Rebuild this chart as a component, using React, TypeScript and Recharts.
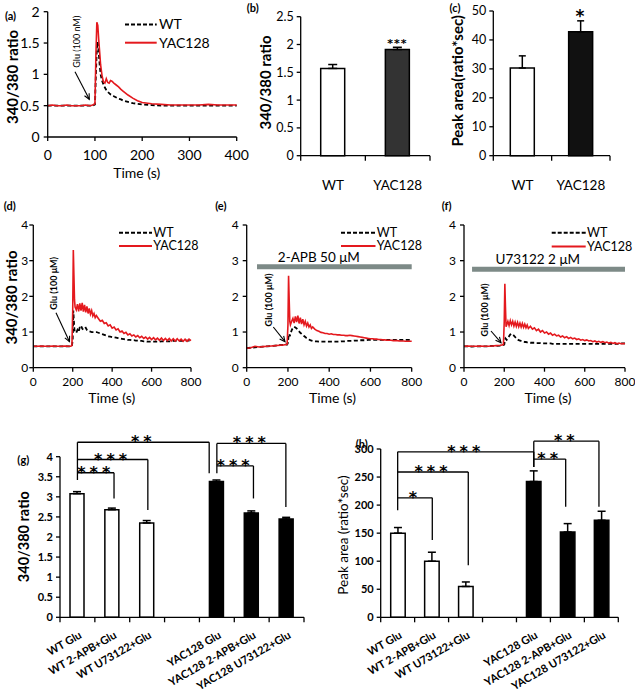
import React from "react";
import {
  LineChart,
  Line,
  BarChart,
  Bar,
  Cell,
  XAxis,
  YAxis,
  ErrorBar,
  ReferenceLine,
  ReferenceArea,
} from "recharts";

const FONT = "Lato, 'Liberation Sans', sans-serif";
const STAR_FONT = "'DejaVu Sans', sans-serif";
const RED = "#e4191e";
const DRUG_GRAY = "#7d8a87";

// ---------- (a) Glu 100 nM, 0-400 s ----------
const aTimes = [
  0, 10, 20, 30, 40, 50, 60, 70, 80, 90,
  95, 100, 102, 104, 106, 108, 110, 112, 115, 118, 121, 124, 127, 130, 133, 136, 140, 145, 150, 155, 160,
  170, 180, 190, 200,
  220, 240, 260, 280, 300, 320, 340, 360, 380, 400,
];
const aWT = [
  0.5, 0.5, 0.5, 0.5, 0.5, 0.5, 0.5, 0.5, 0.5, 0.5,
  0.5, 0.52, 1.0, 1.42, 1.52, 1.35, 1.15, 1.0, 0.9, 0.84, 0.79, 0.75, 0.72, 0.7, 0.68, 0.67, 0.65, 0.63, 0.61, 0.6, 0.58,
  0.56, 0.54, 0.53, 0.52,
  0.51, 0.5, 0.5, 0.5, 0.5, 0.5, 0.5, 0.5, 0.5, 0.5,
];
const aYAC = [
  0.5, 0.51, 0.5, 0.5, 0.51, 0.5, 0.5, 0.5, 0.51, 0.5,
  0.51, 0.53, 1.3, 1.83, 1.78, 1.55, 1.35, 1.15, 0.98, 0.88, 0.86, 0.93, 0.87, 0.86, 0.9, 0.89, 0.86, 0.83, 0.8, 0.76, 0.73,
  0.67, 0.62, 0.58, 0.55,
  0.53, 0.52, 0.51, 0.51, 0.51, 0.51, 0.52, 0.51, 0.51, 0.51,
];
const aTicksX = [0, 100, 200, 300, 400];
const aTicksY = [0, 0.5, 1, 1.5, 2];

// ---------- (d), (e), (f) Glu 100 uM, 0-800 s ----------
const tTimes = [
  0, 20, 40, 60, 80, 100, 120, 140, 160, 180,
  190, 196, 200, 203, 206, 209,
  212, 218, 224, 230, 236, 242, 248, 254, 260, 266, 272, 278, 284, 290, 296, 302, 308, 314, 320,
  330, 340, 350, 360, 370, 380, 390, 400, 410, 420,
  430, 440, 450, 460, 470, 480, 490, 500, 510, 520,
  530, 540, 550, 560, 570, 580, 590, 600, 610, 620,
  630, 640, 650, 660, 670, 680, 690, 700, 710, 720,
  730, 740, 750, 760, 770, 780, 790, 800,
];
const dWT = [
  0.6, 0.6, 0.6, 0.6, 0.6, 0.6, 0.6, 0.6, 0.6, 0.6,
  0.6, 0.6, 0.8, 1.6, 1.3, 1.05,
  1.0, 0.98, 1.06, 1.0, 1.14, 1.18, 1.1, 1.06, 1.1, 1.12, 1.06, 1.03, 1.02, 1.01, 1.0, 1.0, 1.0, 1.0, 1.0,
  0.98, 0.96, 0.94, 0.92, 0.9, 0.88, 0.87, 0.86, 0.85, 0.84,
  0.83, 0.82, 0.81, 0.8, 0.79, 0.78, 0.78, 0.77, 0.77, 0.76,
  0.76, 0.75, 0.75, 0.74, 0.74, 0.73, 0.73, 0.73, 0.73, 0.73,
  0.73, 0.73, 0.74, 0.74, 0.74, 0.74, 0.74, 0.74, 0.75, 0.75,
  0.75, 0.75, 0.75, 0.75, 0.76, 0.76, 0.76, 0.76,
];
const dYAC = [
  0.6, 0.6, 0.61, 0.6, 0.6, 0.61, 0.6, 0.6, 0.61, 0.6,
  0.6, 0.62, 1.6, 3.3, 2.6, 1.9,
  1.7, 1.62, 1.78, 1.58, 1.8, 1.6, 1.82, 1.57, 1.76, 1.55, 1.72, 1.52, 1.66, 1.5, 1.6, 1.45, 1.52, 1.4, 1.46,
  1.38, 1.3, 1.33, 1.24, 1.26, 1.17, 1.2, 1.11, 1.14, 1.06,
  1.09, 1.0, 1.03, 0.96, 0.99, 0.92, 0.95, 0.89, 0.92, 0.86,
  0.9, 0.84, 0.88, 0.82, 0.86, 0.8, 0.85, 0.79, 0.84, 0.78,
  0.83, 0.77, 0.83, 0.76, 0.82, 0.76, 0.82, 0.75, 0.81, 0.75,
  0.81, 0.75, 0.8, 0.74, 0.8, 0.74, 0.8, 0.76,
];
const eWT = [
  0.55, 0.56, 0.57, 0.58, 0.59, 0.6, 0.61, 0.62, 0.63, 0.64,
  0.65, 0.65, 0.7, 0.9, 0.95, 0.88,
  0.95, 1.05, 1.12, 1.15, 1.13, 1.1, 1.06, 1.02, 0.98, 0.95, 0.92, 0.89, 0.86, 0.83, 0.81, 0.79, 0.77, 0.76, 0.75,
  0.74, 0.74, 0.73, 0.73, 0.73, 0.73, 0.73, 0.73, 0.73, 0.73,
  0.73, 0.73, 0.73, 0.74, 0.74, 0.74, 0.75, 0.75, 0.75, 0.76,
  0.76, 0.76, 0.77, 0.77, 0.77, 0.77, 0.78, 0.78, 0.78, 0.78,
  0.78, 0.78, 0.78, 0.78, 0.78, 0.78, 0.78, 0.78, 0.78, 0.78,
  0.78, 0.78, 0.78, 0.78, 0.78, 0.78, 0.78, 0.78,
];
const eYAC = [
  0.55, 0.56, 0.6, 0.58, 0.59, 0.6, 0.61, 0.62, 0.63, 0.64,
  0.65, 0.66, 1.2, 2.58, 1.9, 1.3,
  1.2, 1.3, 1.38, 1.25, 1.44, 1.28, 1.46, 1.24, 1.4, 1.22, 1.36, 1.2, 1.3, 1.17, 1.25, 1.14, 1.2, 1.1, 1.14,
  1.08, 1.04, 1.02, 0.99, 0.98, 0.96, 0.96, 0.94, 0.95, 0.93,
  0.93, 0.92, 0.92, 0.91, 0.91, 0.9, 0.9, 0.91, 0.9, 0.89,
  0.88, 0.87, 0.86, 0.85, 0.84, 0.83, 0.82, 0.81, 0.81, 0.8,
  0.8, 0.79, 0.79, 0.78, 0.78, 0.77, 0.77, 0.77, 0.76, 0.76,
  0.76, 0.75, 0.75, 0.75, 0.74, 0.74, 0.74, 0.74,
];
const fWT = [
  0.6, 0.6, 0.59, 0.6, 0.6, 0.6, 0.6, 0.61, 0.61, 0.62,
  0.63, 0.64, 0.65, 0.75, 0.82, 0.8,
  0.78, 0.82, 0.88, 0.93, 0.95, 0.93, 0.9, 0.86, 0.82, 0.79, 0.77, 0.76, 0.75, 0.74, 0.73, 0.72, 0.72, 0.71, 0.71,
  0.7, 0.7, 0.7, 0.69, 0.69, 0.69, 0.68, 0.68, 0.68, 0.68,
  0.68, 0.67, 0.67, 0.67, 0.67, 0.67, 0.67, 0.67, 0.67, 0.67,
  0.67, 0.67, 0.67, 0.67, 0.67, 0.67, 0.67, 0.67, 0.67, 0.67,
  0.67, 0.67, 0.67, 0.67, 0.67, 0.67, 0.67, 0.67, 0.67, 0.67,
  0.67, 0.67, 0.67, 0.67, 0.67, 0.68, 0.68, 0.68,
];
const fYAC = [
  0.6, 0.61, 0.6, 0.6, 0.61, 0.6, 0.6, 0.61, 0.62, 0.63,
  0.64, 0.65, 1.3, 2.35, 1.7, 1.15,
  1.2, 1.3, 1.18, 1.32, 1.2, 1.3, 1.17, 1.28, 1.16, 1.27, 1.15, 1.25, 1.14, 1.24, 1.13, 1.22, 1.12, 1.2, 1.1,
  1.16, 1.08, 1.12, 1.04, 1.08, 1.0, 1.04, 0.97, 1.0, 0.94,
  0.97, 0.91, 0.94, 0.89, 0.91, 0.86, 0.89, 0.84, 0.87, 0.82,
  0.85, 0.81, 0.83, 0.79, 0.81, 0.77, 0.79, 0.76, 0.78, 0.75,
  0.76, 0.73, 0.75, 0.72, 0.74, 0.71, 0.73, 0.7, 0.72, 0.69,
  0.71, 0.68, 0.7, 0.67, 0.69, 0.67, 0.68, 0.67,
];
const tTicksX = [0, 200, 400, 600, 800];
const tTicksY = [0, 1, 2, 3, 4];

// drug application bars (time range, ratio level)
const apbBar = { x1: 50, x2: 800, y1: 2.76, y2: 2.9 };
const u73Bar = { x1: 40, x2: 800, y1: 2.69, y2: 2.83 };

// ---------- (b), (c) peak ratio and area ----------
const bcGroups = ["WT", "YAC128"];
const bMeans = [1.57, 1.91];
const bErrs = [0.07, 0.04];
const bTicksY = [0, 0.5, 1, 1.5, 2, 2.5];
const cMeans = [30.3, 42.8];
const cErrs = [4.2, 3.8];
const cTicksY = [0, 10, 20, 30, 40, 50];

// ---------- (g), (h) with inhibitors ----------
const ghGroups = [
  "WT Glu",
  "WT 2-APB+Glu",
  "WT U73122+Glu",
  "",
  "YAC128 Glu",
  "YAC128 2-APB+Glu",
  "YAC128 U73122+Glu",
];
const gMeans = [3.08, 2.68, 2.35, null, 3.38, 2.6, 2.45];
const gErrs = [0.05, 0.04, 0.06, null, 0.04, 0.05, 0.04];
const gTicksY = [0, 0.5, 1, 1.5, 2, 2.5, 3, 3.5, 4];
const hMeans = [150, 100, 55, null, 242, 152, 173];
const hErrs = [10, 16, 8, null, 19, 15, 16];
const hTicksY = [0, 50, 100, 150, 200, 250, 300];
const ghFills = ["#fff", "#fff", "#fff", "none", "#000", "#000", "#000"];

// significance brackets: x in band units (0..7), bar from x1 to x2 at y, right leg down to end
const gBrackets = [
  { x1: 0.5, x2: 1.55, y: 3.6, end: 2.96, stars: "***" },
  { x1: 0.5, x2: 2.52, y: 3.93, end: 2.67, stars: "***" },
  { x1: 0.5, x2: 4.28, y: 4.36, end: 3.59, stars: "**" },
  { x1: 4.5, x2: 5.55, y: 3.77, end: 2.96, stars: "***" },
  { x1: 4.5, x2: 6.48, y: 4.33, end: 2.75, stars: "***" },
];
const gLegs = [
  { x: 0.5, y1: 4.36, y2: 3.42 },
  { x: 4.5, y1: 4.33, y2: 3.59 },
];
const hBrackets = [
  { x1: 0.5, x2: 1.52, y: 213, end: 138, stars: "*" },
  { x1: 0.5, x2: 2.58, y: 259, end: 93, stars: "***" },
  { x1: 0.5, x2: 4.51, y: 295, end: 268, stars: "***" },
  { x1: 4.51, x2: 5.45, y: 282, end: 197, stars: "**" },
  { x1: 4.51, x2: 6.43, y: 314, end: 197, stars: "**" },
];
const hLegs = [
  { x: 0.5, y1: 295, y2: 191 },
  { x: 4.51, y1: 314, y2: 268 },
];

const zipTrace = (t: number[], wt: number[], yac: number[]) =>
  t.map((x, i) => ({ t: x, wt: wt[i], yac: yac[i] }));

type Margin = { top: number; right: number; bottom: number; left: number };

function TracePanel(props: {
  left: number;
  top: number;
  width: number;
  height: number;
  margin: Margin;
  yWidth: number;
  xHeight: number;
  data: any[];
  xMax: number;
  xTicks: number[];
  yMax: number;
  yTicks: number[];
  fontSize: number;
  xTickMargin: number;
  yTickMargin: number;
  drug?: { x1: number; x2: number; y1: number; y2: number };
}) {
  const p = props;
  const tickStyle = { fill: "#000", fontSize: p.fontSize, fontFamily: FONT };
  return (
    <div style={{ position: "absolute", left: p.left, top: p.top, width: p.width, height: p.height }}>
      <LineChart width={p.width} height={p.height} data={p.data} margin={p.margin}>
        <XAxis
          dataKey="t"
          type="number"
          domain={[0, p.xMax]}
          ticks={p.xTicks}
          interval={0}
          height={p.xHeight}
          tickSize={4}
          tickMargin={p.xTickMargin}
          tick={tickStyle}
          axisLine={{ stroke: "#000", strokeWidth: 1.3 }}
          tickLine={{ stroke: "#000", strokeWidth: 1.3 }}
        />
        <YAxis
          type="number"
          domain={[0, p.yMax]}
          ticks={p.yTicks}
          interval={0}
          width={p.yWidth}
          tickSize={4}
          tickMargin={p.yTickMargin}
          tick={tickStyle}
          axisLine={{ stroke: "#000", strokeWidth: 1.3 }}
          tickLine={{ stroke: "#000", strokeWidth: 1.3 }}
        />
        {p.drug && (
          <ReferenceArea
            x1={p.drug.x1}
            x2={p.drug.x2}
            y1={p.drug.y1}
            y2={p.drug.y2}
            fill={DRUG_GRAY}
            fillOpacity={1}
            stroke="none"
          />
        )}
        <Line
          type="linear"
          dataKey="wt"
          stroke="#000"
          strokeWidth={1.8}
          strokeDasharray="4 2.5"
          dot={false}
          isAnimationActive={false}
        />
        <Line
          type="linear"
          dataKey="yac"
          stroke={RED}
          strokeWidth={1.6}
          dot={false}
          isAnimationActive={false}
        />
      </LineChart>
    </div>
  );
}

function BandTick(props: any) {
  const { x, y, payload, index, half, count, rotated, fontSize } = props;
  return (
    <g>
      <line x1={x - half} x2={x - half} y1={y} y2={y + 5} stroke="#000" strokeWidth={1.3} />
      {index === count - 1 && (
        <line x1={x + half} x2={x + half} y1={y} y2={y + 5} stroke="#000" strokeWidth={1.3} />
      )}
      {rotated ? (
        <text
          x={x + 5}
          y={y + 20}
          transform={`rotate(-30 ${x + 5} ${y + 20})`}
          textAnchor="end"
          fontSize={fontSize}
          fontWeight="bold"
          fontFamily={FONT}
          fill="#000"
        >
          {payload.value}
        </text>
      ) : (
        <text x={x} y={y + 34} textAnchor="middle" fontSize={fontSize} fontFamily={FONT} fill="#000">
          {payload.value}
        </text>
      )}
    </g>
  );
}

type Bracket = { x1: number; x2: number; y: number; end: number; stars: string };
type Leg = { x: number; y1: number; y2: number };

function BarPanel(props: {
  left: number;
  top: number;
  width: number;
  height: number;
  margin: Margin;
  yWidth: number;
  xHeight: number;
  groups: string[];
  means: (number | null)[];
  errs: (number | null)[];
  fills: string[];
  yMax: number;
  yTicks: number[];
  barSize: number;
  capWidth: number;
  fontSize: number;
  labelSize: number;
  bold?: boolean;
  rotated?: boolean;
  brackets?: Bracket[];
  legs?: Leg[];
}) {
  const p = props;
  const n = p.groups.length;
  const data = p.groups.map((g, i) => ({
    g,
    pos: i + 0.5,
    v: p.means[i],
    e: p.errs[i] == null ? null : [0, p.errs[i] as number],
  }));
  const plotW = p.width - p.margin.left - p.margin.right - p.yWidth;
  const half = plotW / n / 2;
  const line = { stroke: "#000", strokeWidth: 1.3 };
  const seg = { stroke: "#000", strokeWidth: 1.3, ifOverflow: "visible" as const, xAxisId: "n" };
  return (
    <div style={{ position: "absolute", left: p.left, top: p.top, width: p.width, height: p.height }}>
      <BarChart width={p.width} height={p.height} data={data} margin={p.margin}>
        <XAxis
          dataKey="g"
          type="category"
          interval={0}
          height={p.xHeight}
          tickSize={0}
          tickMargin={0}
          tickLine={false}
          axisLine={line}
          tick={(tp: any) => (
            <BandTick {...tp} half={half} count={n} rotated={p.rotated} fontSize={p.labelSize} />
          )}
        />
        <XAxis
          xAxisId="n"
          dataKey="pos"
          type="number"
          domain={[0, n]}
          allowDataOverflow
          padding={{ left: 0, right: 0 }}
          hide
        />
        <YAxis
          type="number"
          domain={[0, p.yMax]}
          ticks={p.yTicks}
          interval={0}
          width={p.yWidth}
          tickSize={4}
          tickMargin={3}
          tick={{
            fill: "#000",
            fontSize: p.fontSize,
            fontFamily: FONT,
            fontWeight: p.bold ? "bold" : "normal",
          }}
          axisLine={line}
          tickLine={line}
        />
        <Bar dataKey="v" barSize={p.barSize} stroke="#000" strokeWidth={1.5} isAnimationActive={false}>
          {data.map((d, i) => (
            <Cell key={i} fill={p.fills[i]} stroke={d.v == null ? "none" : "#000"} />
          ))}
          <ErrorBar dataKey="e" width={p.capWidth} stroke="#000" strokeWidth={1.5} direction="y" />
        </Bar>
        {(p.legs || []).map((l, i) => (
          <ReferenceLine
            key={`leg${i}`}
            {...seg}
            segment={[
              { x: l.x, y: l.y1 },
              { x: l.x, y: l.y2 },
            ]}
          />
        ))}
        {(p.brackets || []).map((b, i) => (
          <ReferenceLine
            key={`h${i}`}
            {...seg}
            segment={[
              { x: b.x1, y: b.y },
              { x: b.x2, y: b.y },
            ]}
            label={{
              value: b.stars,
              position: "top",
              offset: -5,
              fill: "#000",
              fontSize: 16,
              fontWeight: "bold",
              fontFamily: STAR_FONT,
              letterSpacing: 4,
            }}
          />
        ))}
        {(p.brackets || []).map((b, i) => (
          <ReferenceLine
            key={`r${i}`}
            {...seg}
            segment={[
              { x: b.x2, y: b.y },
              { x: b.x2, y: b.end },
            ]}
          />
        ))}
      </BarChart>
    </div>
  );
}

function Arrow({ x1, y1, x2, y2 }: { x1: number; y1: number; y2: number; x2: number }) {
  const a = Math.atan2(y2 - y1, x2 - x1);
  const L = 6;
  const s = 0.45;
  const p1 = `${x2 - L * Math.cos(a - s)},${y2 - L * Math.sin(a - s)}`;
  const p2 = `${x2 - L * Math.cos(a + s)},${y2 - L * Math.sin(a + s)}`;
  return (
    <g stroke="#000" strokeWidth={1.1} fill="none">
      <line x1={x1} y1={y1} x2={x2} y2={y2} />
      <polyline points={`${p1} ${x2},${y2} ${p2}`} />
    </g>
  );
}

function VText({
  x,
  y,
  size,
  bold,
  children,
}: {
  x: number;
  y: number;
  size: number;
  bold?: boolean;
  children: React.ReactNode;
}) {
  return (
    <text
      x={x}
      y={y}
      transform={`rotate(-90 ${x} ${y})`}
      textAnchor="middle"
      dominantBaseline="central"
      fontSize={size}
      fontWeight={bold ? "bold" : "normal"}
      fontFamily={FONT}
      fill="#000"
    >
      {children}
    </text>
  );
}

function LegendPair({
  x1,
  x2,
  tx,
  yWT,
  yYAC,
  size,
}: {
  x1: number;
  x2: number;
  tx: number;
  yWT: number;
  yYAC: number;
  size: number;
}) {
  return (
    <g fontFamily={FONT} fontSize={size} fill="#000">
      <line x1={x1} x2={x2} y1={yWT} y2={yWT} stroke="#000" strokeWidth={2} strokeDasharray="4 2" />
      <text x={tx} y={yWT + size * 0.35}>WT</text>
      <line x1={x1} x2={x2} y1={yYAC} y2={yYAC} stroke={RED} strokeWidth={2} />
      <text x={tx} y={yYAC + size * 0.35}>YAC128</text>
    </g>
  );
}

function Overlay() {
  const letters: [string, number, number][] = [
    ["(a)", 10.5, 19.5],
    ["(b)", 252.7, 11.5],
    ["(c)", 455, 11.5],
    ["(d)", 9.7, 210],
    ["(e)", 220.8, 210],
    ["(f)", 446.7, 210],
    ["(g)", 23.3, 463.5],
    ["(h)", 361.7, 448],
  ];
  return (
    <svg
      width={635}
      height={693}
      style={{ position: "absolute", left: 0, top: 0, pointerEvents: "none" }}
    >
      {letters.map(([t, x, y]) => (
        <text key={t} x={x} y={y} textAnchor="middle" fontSize={11} fontWeight="bold" fontFamily={FONT}>
          {t}
        </text>
      ))}

      <VText x={11.5} y={77} size={15} bold>340/380 ratio</VText>
      <VText x={265} y={82.5} size={15} bold>340/380 ratio</VText>
      <VText x={456.7} y={80.8} size={15} bold>Peak area(ratio*sec)</VText>
      <VText x={11} y={297.5} size={15} bold>340/380 ratio</VText>
      <VText x={23.3} y={536.7} size={14.5} bold>340/380 ratio</VText>
      <VText x={343} y={535} size={13.5}>Peak area (ratio*sec)</VText>

      <g fontFamily={FONT} fontSize={14} textAnchor="middle" fill="#000">
        <text x={136.7} y={178}>Time (s)</text>
        <text x={111.7} y={403}>Time (s)</text>
        <text x={332.5} y={403}>Time (s)</text>
        <text x={548} y={403}>Time (s)</text>
      </g>

      <g fontFamily={STAR_FONT} fontWeight="bold" textAnchor="middle" fill="#000">
        <text x={397.5} y={47} fontSize={11} letterSpacing={1}>***</text>
        <text x={580} y={22} fontSize={17}>*</text>
      </g>

      <LegendPair x1={125} x2={156.7} tx={159} yWT={24.5} yYAC={42.7} size={14} />
      <LegendPair x1={119} x2={152} tx={153.3} yWT={232.7} yYAC={246} size={12.5} />
      <LegendPair x1={341} x2={375.5} tx={376.7} yWT={232.7} yYAC={246} size={12.5} />
      <LegendPair x1={551.7} x2={585.7} tx={587} yWT={232.7} yYAC={246.5} size={12.5} />

      <g fontFamily={FONT} fontSize={13.5} textAnchor="middle" fill="#000">
        <text x={318.8} y={262}>2-APB 50 μM</text>
        <text x={537.8} y={264}>U73122 2 μM</text>
      </g>

      <VText x={76.7} y={41.7} size={9}>Glu (100 nM)</VText>
      <VText x={53.3} y={283.3} size={9} bold>Glu (100 μM)</VText>
      <VText x={268.3} y={300} size={9} bold>Glu (100 μM)</VText>
      <VText x={484.3} y={310} size={9} bold>Glu (100 μM)</VText>

      <Arrow x1={75} y1={71.7} x2={89.3} y2={99.3} />
      <Arrow x1={56} y1={312.7} x2={69.5} y2={341.7} />
      <Arrow x1={273.3} y1={327} x2={285} y2={341.7} />
      <Arrow x1={491} y1={331} x2={501} y2={342.7} />
    </svg>
  );
}

export default function App() {
  const aData = zipTrace(aTimes, aWT, aYAC);
  const dData = zipTrace(tTimes, dWT, dYAC);
  const eData = zipTrace(tTimes, eWT, eYAC);
  const fData = zipTrace(tTimes, fWT, fYAC);
  return (
    <div
      style={{
        position: "absolute",
        left: 0,
        top: 0,
        width: 635,
        height: 693,
        background: "#fff",
        fontFamily: FONT,
        overflow: "hidden",
      }}
    >
      <TracePanel
        left={0}
        top={0}
        width={250}
        height={190}
        margin={{ top: 11.7, right: 13.3, bottom: 0, left: 0 }}
        yWidth={47.7}
        xHeight={53}
        data={aData}
        xMax={400}
        xTicks={aTicksX}
        yMax={2}
        yTicks={aTicksY}
        fontSize={14}
        xTickMargin={9}
        yTickMargin={4}
      />
      <BarPanel
        left={250}
        top={0}
        width={185}
        height={200}
        margin={{ top: 16.7, right: 5, bottom: 0, left: 0 }}
        yWidth={50.7}
        xHeight={44.3}
        groups={bcGroups}
        means={bMeans}
        errs={bErrs}
        fills={["#fff", "#333"]}
        yMax={2.5}
        yTicks={bTicksY}
        barSize={24}
        capWidth={4.5}
        fontSize={12.5}
        labelSize={13.5}
      />
      <BarPanel
        left={435}
        top={0}
        width={200}
        height={200}
        margin={{ top: 11, right: 25, bottom: 0, left: 0 }}
        yWidth={58.3}
        xHeight={44.3}
        groups={bcGroups}
        means={cMeans}
        errs={cErrs}
        fills={["#fff", "#111"]}
        yMax={50}
        yTicks={cTicksY}
        barSize={24}
        capWidth={3.5}
        fontSize={12.5}
        labelSize={13.5}
      />
      <TracePanel
        left={0}
        top={200}
        width={205}
        height={210}
        margin={{ top: 25, right: 14, bottom: 0, left: 0 }}
        yWidth={33.3}
        xHeight={42.3}
        data={dData}
        xMax={800}
        xTicks={tTicksX}
        yMax={4}
        yTicks={tTicksY}
        fontSize={12}
        xTickMargin={6}
        yTickMargin={1}
      />
      <TracePanel
        left={205}
        top={200}
        width={222}
        height={210}
        margin={{ top: 25, right: 15.3, bottom: 0, left: 0 }}
        yWidth={41.7}
        xHeight={42.3}
        data={eData}
        xMax={800}
        xTicks={tTicksX}
        yMax={4}
        yTicks={tTicksY}
        fontSize={12}
        xTickMargin={6}
        yTickMargin={4}
        drug={apbBar}
      />
      <TracePanel
        left={415}
        top={200}
        width={220}
        height={210}
        margin={{ top: 25, right: 10, bottom: 0, left: 0 }}
        yWidth={49}
        xHeight={42.3}
        data={fData}
        xMax={800}
        xTicks={tTicksX}
        yMax={4}
        yTicks={tTicksY}
        fontSize={12}
        xTickMargin={6}
        yTickMargin={4}
        drug={u73Bar}
      />
      <BarPanel
        left={0}
        top={425}
        width={315}
        height={268}
        margin={{ top: 31.7, right: 11, bottom: 0, left: 0 }}
        yWidth={60}
        xHeight={75.7}
        groups={ghGroups}
        means={gMeans}
        errs={gErrs}
        fills={ghFills}
        yMax={4}
        yTicks={gTicksY}
        barSize={14}
        capWidth={4}
        fontSize={11}
        labelSize={11}
        bold
        rotated
        brackets={gBrackets}
        legs={gLegs}
      />
      <BarPanel
        left={315}
        top={425}
        width={320}
        height={268}
        margin={{ top: 24, right: 16.7, bottom: 0, left: 0 }}
        yWidth={65.7}
        xHeight={75.7}
        groups={ghGroups}
        means={hMeans}
        errs={hErrs}
        fills={ghFills}
        yMax={300}
        yTicks={hTicksY}
        barSize={14.5}
        capWidth={4}
        fontSize={11}
        labelSize={11}
        bold
        rotated
        brackets={hBrackets}
        legs={hLegs}
      />
      <Overlay />
    </div>
  );
}
